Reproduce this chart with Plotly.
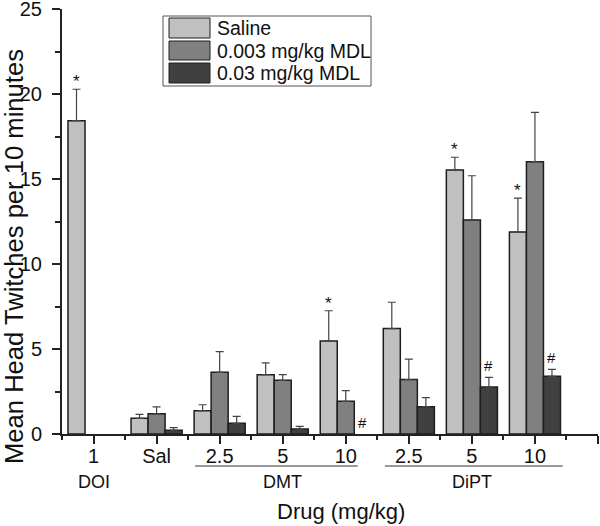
import plotly.graph_objects as go

# ---------------- data ----------------
tick_labels = ["1", "Sal", "2.5", "5", "10", "2.5", "5", "10"]
series_names = ["Saline", "0.003 mg/kg MDL", "0.03 mg/kg MDL"]
saline = [18.43, 0.92, 1.37, 3.49, 5.47, 6.20, 15.53, 11.88]
saline_err = [1.85, 0.24, 0.35, 0.69, 1.78, 1.55, 0.75, 2.00]
mdl_003 = [None, 1.19, 3.63, 3.16, 1.92, 3.20, 12.59, 16.02]
mdl_003_err = [None, 0.41, 1.21, 0.33, 0.63, 1.20, 2.60, 2.90]
mdl_03 = [None, 0.22, 0.63, 0.29, None, 1.61, 2.76, 3.39]
mdl_03_err = [None, 0.15, 0.41, 0.16, None, 0.53, 0.57, 0.41]
# significance marks: (category index, series index, symbol)
marks = [(0, 0, "*"), (4, 0, "*"), (6, 0, "*"), (7, 0, "*"),
         (4, 2, "#"), (6, 2, "#"), (7, 2, "#")]
groups = [("DOI", 0, None), ("DMT", 3, (1.61, 4.19)), ("DiPT", 6, (4.62, 7.44))]

colors = ["#c0c0c0", "#808080", "#404040"]
values = [saline, mdl_003, mdl_03]
errors = [saline_err, mdl_003_err, mdl_03_err]

FONT = "Liberation Sans, Arial, sans-serif"
W, H = 600, 526
L, R, T, B = 62, 2, 9, 92
PW, PH = W - L - R, H - T - B
XR = [-0.5, 8.0]

def px(x):
    return (x - L) / PW

def py(y):
    return (H - B - y) / PH

xs = list(range(len(tick_labels)))
fig = go.Figure()
for name, v, e, c in zip(series_names, values, errors, colors):
    fig.add_trace(go.Bar(
        x=xs, y=v, name=name,
        marker=dict(color=c, line=dict(color="#1e1e1e", width=1.5)),
        error_y=dict(type="data", symmetric=False, array=[ee if ee is not None else 0 for ee in e],
                     arrayminus=[0] * len(e), color="#444444", thickness=1.2, width=4),
        showlegend=False,
    ))

# significance annotations
bar_w = (1 - 0.19) / 3
for ci, si, sym in marks:
    v = values[si][ci]
    e = errors[si][ci]
    top = (v or 0) + (e or 0)
    fig.add_annotation(x=ci + (si - 1) * bar_w, y=top, xref="x", yref="y",
                       text=sym, showarrow=False, yanchor="bottom",
                       yshift=-4 if sym == "*" else 1,
                       font=dict(family=FONT, size=17 if sym == "*" else 15, color="#111"))

# group labels and lines
group_label_y = py(482)
for gname, gx, span in groups:
    fig.add_annotation(x=gx, y=group_label_y, xref="x", yref="paper", text=gname,
                       showarrow=False, yanchor="middle",
                       font=dict(family=FONT, size=18, color="#111"))
    if span:
        fig.add_shape(type="line", xref="x", yref="paper", x0=span[0], x1=span[1],
                      y0=py(466), y1=py(466), line=dict(color="#333", width=1))

# axis titles
fig.add_annotation(x=px(341), y=py(511), xref="paper", yref="paper", text="Drug (mg/kg)",
                   showarrow=False, yanchor="middle", xanchor="center",
                   font=dict(family=FONT, size=22, color="#111"))
fig.add_annotation(x=px(14), y=py(257), xref="paper", yref="paper",
                   text="Mean Head Twitches per 10 minutes", textangle=-90,
                   showarrow=False, yanchor="middle", xanchor="center",
                   font=dict(family=FONT, size=25.6, color="#111"))

# custom legend
fig.add_shape(type="rect", xref="paper", yref="paper", x0=px(163), x1=px(371),
              y0=py(86), y1=py(16), line=dict(color="#555", width=1), fillcolor="white")
rows = [(18, 38), (41, 60), (63, 83)]
for (y0, y1), name, c in zip(rows, series_names, colors):
    fig.add_shape(type="rect", xref="paper", yref="paper", x0=px(169), x1=px(210),
                  y0=py(y1), y1=py(y0), line=dict(color="#1e1e1e", width=1), fillcolor=c)
    fig.add_annotation(x=px(215), y=py((y0 + y1) / 2), xref="paper", yref="paper", text=name,
                       showarrow=False, xanchor="left", yanchor="middle",
                       font=dict(family=FONT, size=19.5, color="#111"))

fig.update_layout(
    width=W, height=H,
    margin=dict(l=L, r=R, t=T, b=B, autoexpand=False),
    paper_bgcolor="white", plot_bgcolor="white",
    barmode="group", bargap=0.19, bargroupgap=0,
    font=dict(family=FONT, color="#111"),
    xaxis=dict(range=XR, tickmode="array", tickvals=list(range(9)), automargin=False,
               ticktext=tick_labels + [""], ticks="outside", ticklen=8, tickwidth=1.5,
               tickcolor="#222", showline=True, linecolor="#222", linewidth=2,
               showgrid=False, zeroline=False, ticklabelstandoff=-5,
               ticklabeloverflow="allow",
               tickfont=dict(family=FONT, size=20, color="#111"),
               minor=dict(tickmode="array", tickvals=[i - 0.5 for i in range(9)],
                          ticks="outside", ticklen=4, tickwidth=1.5, tickcolor="#222",
                          showgrid=False)),
    yaxis=dict(range=[0, 25], tickvals=[0, 5, 10, 15, 20, 25], ticks="outside", ticklen=8,
               automargin=False, ticklabeloverflow="allow",
               tickwidth=1.5, tickcolor="#222", showline=True, linecolor="#222", linewidth=2,
               showgrid=False, zeroline=False, ticklabelstandoff=6,
               tickfont=dict(family=FONT, size=20, color="#111"),
               minor=dict(tick0=2.5, dtick=5, ticks="outside", ticklen=5, tickwidth=1.5,
                          tickcolor="#222", showgrid=False)),
)

fig.write_html("out.html", config={"displayModeBar": False},
               post_script="document.body.style.margin='0';document.body.style.overflow='hidden';")
